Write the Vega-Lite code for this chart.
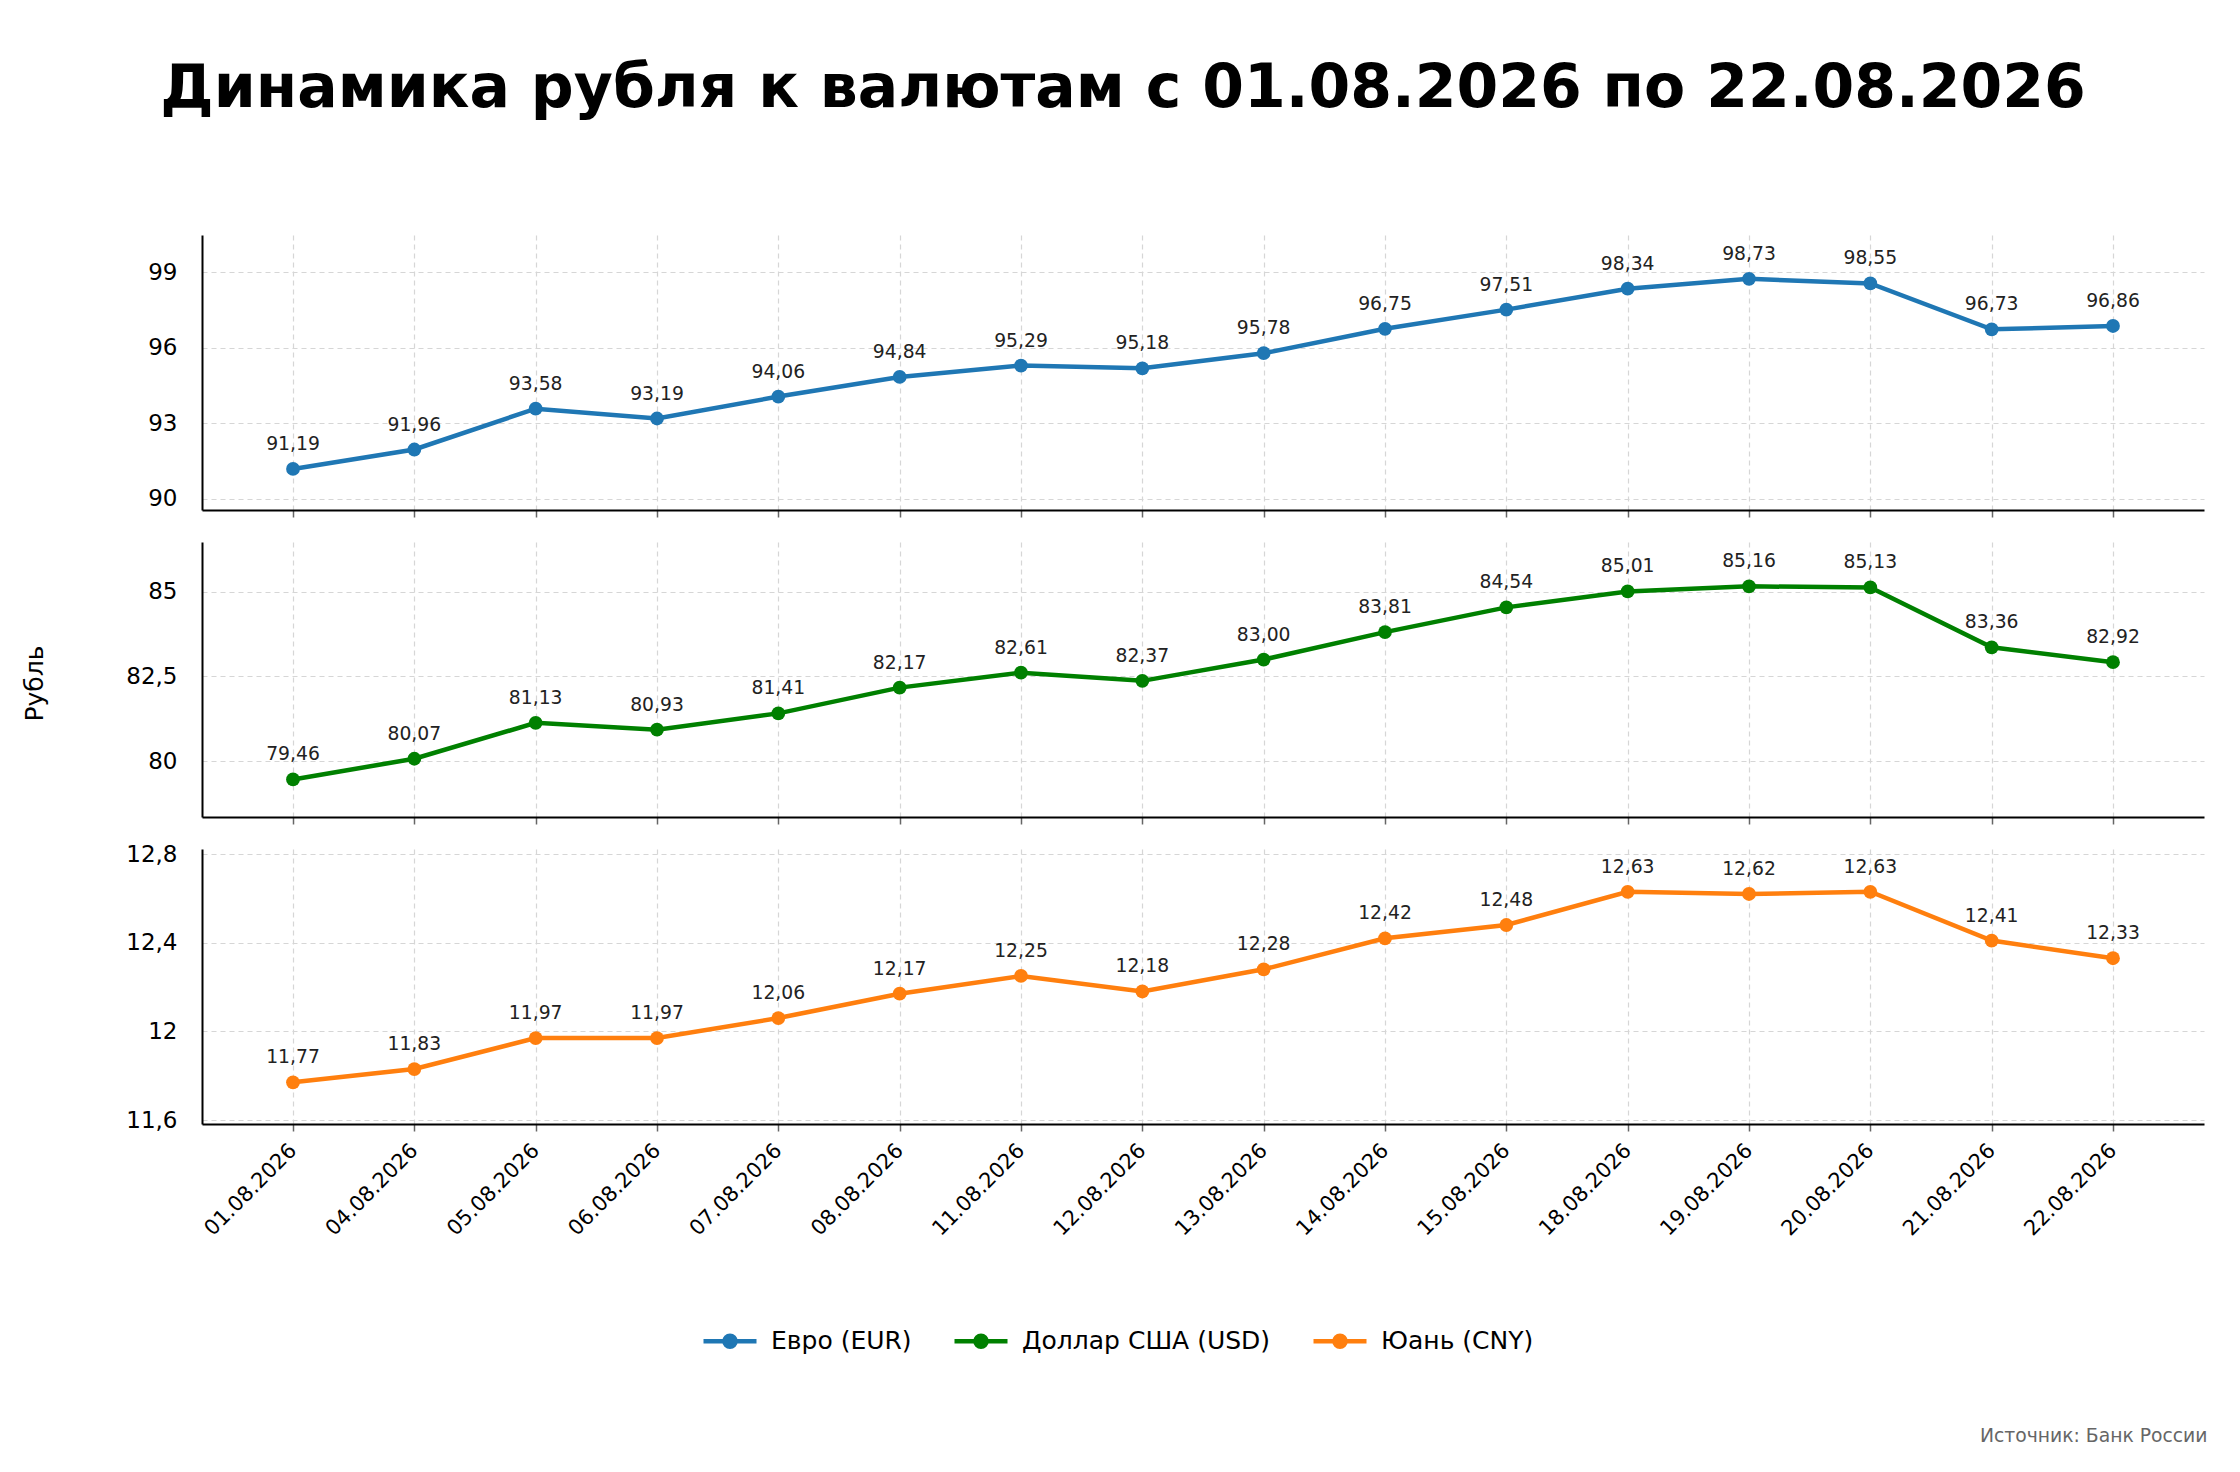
{
  "$schema": "https://vega.github.io/schema/vega-lite/v6.json",
  "background": "white",
  "padding": {"left": 22, "top": 59, "right": 10, "bottom": 10},
  "title": {
    "text": "Динамика рубля к валютам с 01.08.2026 по 22.08.2026",
    "font": "DejaVu Sans",
    "fontSize": 60,
    "fontWeight": "bold",
    "color": "#000",
    "anchor": "middle",
    "frame": "group",
    "baseline": "alphabetic",
    "dx": -80,
    "offset": 68
  },
  "data": {
    "values": [
      {"date": "01.08.2026", "cur": "Евро (EUR)", "value": 91.19},
      {"date": "04.08.2026", "cur": "Евро (EUR)", "value": 91.96},
      {"date": "05.08.2026", "cur": "Евро (EUR)", "value": 93.58},
      {"date": "06.08.2026", "cur": "Евро (EUR)", "value": 93.19},
      {"date": "07.08.2026", "cur": "Евро (EUR)", "value": 94.06},
      {"date": "08.08.2026", "cur": "Евро (EUR)", "value": 94.84},
      {"date": "11.08.2026", "cur": "Евро (EUR)", "value": 95.29},
      {"date": "12.08.2026", "cur": "Евро (EUR)", "value": 95.18},
      {"date": "13.08.2026", "cur": "Евро (EUR)", "value": 95.78},
      {"date": "14.08.2026", "cur": "Евро (EUR)", "value": 96.75},
      {"date": "15.08.2026", "cur": "Евро (EUR)", "value": 97.51},
      {"date": "18.08.2026", "cur": "Евро (EUR)", "value": 98.34},
      {"date": "19.08.2026", "cur": "Евро (EUR)", "value": 98.73},
      {"date": "20.08.2026", "cur": "Евро (EUR)", "value": 98.55},
      {"date": "21.08.2026", "cur": "Евро (EUR)", "value": 96.73},
      {"date": "22.08.2026", "cur": "Евро (EUR)", "value": 96.86},
      {"date": "01.08.2026", "cur": "Доллар США (USD)", "value": 79.46},
      {"date": "04.08.2026", "cur": "Доллар США (USD)", "value": 80.07},
      {"date": "05.08.2026", "cur": "Доллар США (USD)", "value": 81.13},
      {"date": "06.08.2026", "cur": "Доллар США (USD)", "value": 80.93},
      {"date": "07.08.2026", "cur": "Доллар США (USD)", "value": 81.41},
      {"date": "08.08.2026", "cur": "Доллар США (USD)", "value": 82.17},
      {"date": "11.08.2026", "cur": "Доллар США (USD)", "value": 82.61},
      {"date": "12.08.2026", "cur": "Доллар США (USD)", "value": 82.37},
      {"date": "13.08.2026", "cur": "Доллар США (USD)", "value": 83.00},
      {"date": "14.08.2026", "cur": "Доллар США (USD)", "value": 83.81},
      {"date": "15.08.2026", "cur": "Доллар США (USD)", "value": 84.54},
      {"date": "18.08.2026", "cur": "Доллар США (USD)", "value": 85.01},
      {"date": "19.08.2026", "cur": "Доллар США (USD)", "value": 85.16},
      {"date": "20.08.2026", "cur": "Доллар США (USD)", "value": 85.13},
      {"date": "21.08.2026", "cur": "Доллар США (USD)", "value": 83.36},
      {"date": "22.08.2026", "cur": "Доллар США (USD)", "value": 82.92},
      {"date": "01.08.2026", "cur": "Юань (CNY)", "value": 11.77},
      {"date": "04.08.2026", "cur": "Юань (CNY)", "value": 11.83},
      {"date": "05.08.2026", "cur": "Юань (CNY)", "value": 11.97},
      {"date": "06.08.2026", "cur": "Юань (CNY)", "value": 11.97},
      {"date": "07.08.2026", "cur": "Юань (CNY)", "value": 12.06},
      {"date": "08.08.2026", "cur": "Юань (CNY)", "value": 12.17},
      {"date": "11.08.2026", "cur": "Юань (CNY)", "value": 12.25},
      {"date": "12.08.2026", "cur": "Юань (CNY)", "value": 12.18},
      {"date": "13.08.2026", "cur": "Юань (CNY)", "value": 12.28},
      {"date": "14.08.2026", "cur": "Юань (CNY)", "value": 12.42},
      {"date": "15.08.2026", "cur": "Юань (CNY)", "value": 12.48},
      {"date": "18.08.2026", "cur": "Юань (CNY)", "value": 12.63},
      {"date": "19.08.2026", "cur": "Юань (CNY)", "value": 12.62},
      {"date": "20.08.2026", "cur": "Юань (CNY)", "value": 12.63},
      {"date": "21.08.2026", "cur": "Юань (CNY)", "value": 12.41},
      {"date": "22.08.2026", "cur": "Юань (CNY)", "value": 12.33}
    ]
  },
  "spacing": 32,
  "bounds": "flush",
  "resolve": {"scale": {"y": "independent"}},
  "vconcat": [
    {
      "width": 2002,
      "height": 275,
      "transform": [{"filter": "datum.cur === 'Евро (EUR)'"}],
      "encoding": {
        "x": {"field": "date", "type": "ordinal", "scale": {"type": "point", "padding": 0.75}, "axis": {"labels": false, "title": null, "grid": true}},
        "y": {"field": "value", "type": "quantitative", "scale": {"domain": [89.56, 100.47], "nice": false, "zero": false}, "axis": {"values": [90, 93, 96, 99], "title": null}}
      },
      "layer": [
        {
          "mark": {"type": "line", "strokeWidth": 4.5, "point": {"filled": true, "size": 190}},
          "encoding": {
            "color": {
              "field": "cur", "type": "nominal",
              "scale": {"domain": ["Евро (EUR)", "Доллар США (USD)", "Юань (CNY)"], "range": ["#1f77b4", "#008000", "#ff7f0e"]},
              "legend": {
                "orient": "none", "legendX": 499, "legendY": 1077, "direction": "horizontal", "title": null,
                "labelFontSize": 25, "labelFont": "DejaVu Sans", "labelColor": "#000", "labelLimit": 600,
                "symbolType": "M-1,0L1,0M0.21,0A0.21,0.21,0,1,1,-0.21,0A0.21,0.21,0,1,1,0.21,0Z",
                "symbolSize": 2809, "symbolStrokeWidth": 4.5, "labelOffset": 12, "columnPadding": 33, "padding": 0,
                "encode": {"symbols": {"update": {"fill": {"scale": "color", "field": "value"}, "stroke": {"scale": "color", "field": "value"}, "opacity": {"value": 1}}}}
              }
            }
          }
        },
        {
          "mark": {"type": "text", "dy": -19, "fontSize": 18.75, "color": "#222", "baseline": "alphabetic"},
          "encoding": {"text": {"field": "value", "type": "quantitative", "format": ".2f"}}
        }
      ]
    },
    {
      "width": 2002,
      "height": 275,
      "transform": [{"filter": "datum.cur === 'Доллар США (USD)'"}],
      "encoding": {
        "x": {"field": "date", "type": "ordinal", "scale": {"type": "point", "padding": 0.75}, "axis": {"labels": false, "title": null, "grid": true}},
        "y": {"field": "value", "type": "quantitative", "scale": {"domain": [78.35, 86.47], "nice": false, "zero": false},
          "axis": {"values": [80, 82.5, 85], "title": "Рубль", "titleX": -168, "titleY": 141, "titleAngle": 270, "titleAlign": "center", "titleBaseline": "middle", "titleFontSize": 25, "titleFontWeight": "normal", "titleColor": "#000"}}
      },
      "layer": [
        {
          "mark": {"type": "line", "strokeWidth": 4.5, "point": {"filled": true, "size": 190}},
          "encoding": {
            "color": {"field": "cur", "type": "nominal", "scale": {"domain": ["Евро (EUR)", "Доллар США (USD)", "Юань (CNY)"], "range": ["#1f77b4", "#008000", "#ff7f0e"]}}
          }
        },
        {
          "mark": {"type": "text", "dy": -19, "fontSize": 18.75, "color": "#222", "baseline": "alphabetic"},
          "encoding": {"text": {"field": "value", "type": "quantitative", "format": ".2f"}}
        }
      ]
    },
    {
      "width": 2002,
      "height": 275,
      "transform": [{"filter": "datum.cur === 'Юань (CNY)'"}],
      "encoding": {
        "x": {"field": "date", "type": "ordinal", "scale": {"type": "point", "padding": 0.75},
          "axis": {"grid": true, "labelAngle": 315, "labelAlign": "right", "labelBaseline": "middle", "labelPadding": 16, "labelFontSize": 21,
            "title": "Источник: Банк России", "titleX": 2005, "titleY": 317, "titleAlign": "right", "titleBaseline": "alphabetic", "titleFontSize": 18.75, "titleFontWeight": "normal", "titleColor": "#666"}},
        "y": {"field": "value", "type": "quantitative", "scale": {"domain": [11.582, 12.823], "nice": false, "zero": false}, "axis": {"values": [11.6, 12, 12.4, 12.8], "title": null}}
      },
      "layer": [
        {
          "mark": {"type": "line", "strokeWidth": 4.5, "point": {"filled": true, "size": 190}},
          "encoding": {
            "color": {"field": "cur", "type": "nominal", "scale": {"domain": ["Евро (EUR)", "Доллар США (USD)", "Юань (CNY)"], "range": ["#1f77b4", "#008000", "#ff7f0e"]}}
          }
        },
        {
          "mark": {"type": "text", "dy": -19, "fontSize": 18.75, "color": "#222", "baseline": "alphabetic"},
          "encoding": {"text": {"field": "value", "type": "quantitative", "format": ".2f"}}
        }
      ]
    }
  ],
  "config": {
    "font": "DejaVu Sans",
    "locale": {"number": {"decimal": ",", "thousands": " ", "grouping": [3], "currency": ["", " ₽"]}},
    "view": {"stroke": null},
    "axis": {
      "domainColor": "#000", "domainWidth": 2,
      "gridColor": "#d6d6d6", "gridDash": [5, 4], "gridWidth": 1.2,
      "labelFont": "DejaVu Sans", "labelColor": "#000",
      "tickColor": "#666", "tickWidth": 1.5, "tickSize": 7
    },
    "axisY": {"ticks": false, "tickSize": 0, "labelPadding": 25, "labelFontSize": 23, "labelExpr": "replace(toString(datum.value), '.', ',')"}
  }
}
